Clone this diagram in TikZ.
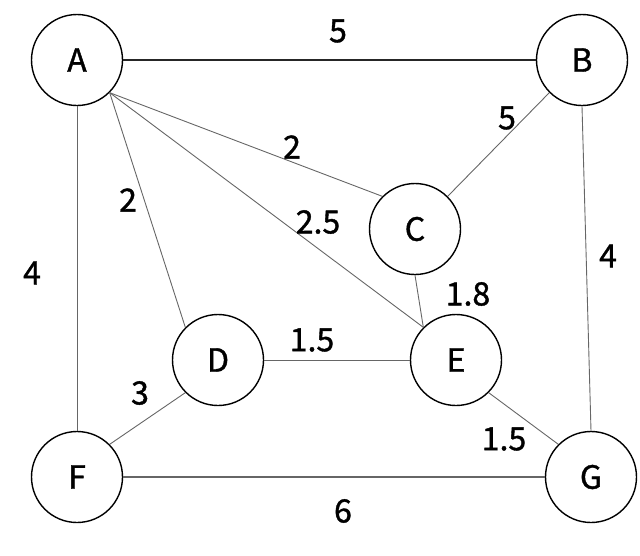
\documentclass[tikz,border=0pt]{standalone}
\usepackage{fontspec}
\setmainfont{Noto Sans CJK SC}
\newfontfamily\lblfont[FakeBold=1.2]{Noto Sans CJK SC}
\begin{document}
\begin{tikzpicture}[x=1pt,y=-1pt,
  vert/.style={circle,draw=black,line width=1.4pt,minimum size=91pt,inner sep=0pt,font=\lblfont\fontsize{32}{34}\selectfont},
  edge/.style={draw=black!60,line width=0.9pt},
  wt/.style={font=\lblfont\fontsize{32}{34}\selectfont,inner sep=0pt}]
\useasboundingbox (0,0) rectangle (640,555);
\node[vert] (A) at (77,60) {A};
\node[vert] (B) at (582,60) {B};
\node[vert] (C) at (415,229) {C};
\node[vert] (D) at (218,360) {D};
\node[vert] (E) at (456,360) {E};
\node[vert] (F) at (77,477) {F};
\node[vert] (G) at (591,477) {G};
\draw[draw=black!85,line width=1.1pt] (A.east) -- (B.west);
\draw[edge] (A.south east) -- (C.north west);
\draw[edge] (A.south east) -- (D.north west);
\draw[edge] (A.south east) -- (E.north west);
\draw[edge] (A.south) -- (F.north);
\draw[edge] (C.north east) -- (B.south west);
\draw[edge] (B.south) -- (G.north);
\draw[edge] (C.south) -- (E.north west);
\draw[edge] (D.east) -- (E.west);
\draw[edge] (D.south west) -- (F.north east);
\draw[edge] (E.south east) -- (G.north west);
\draw[edge,line width=1.1pt] (F.east) -- (G.west);
\node[wt] (w1) at (338,31) {5};
\node[wt] (w2) at (507,118) {5};
\node[wt] (w3) at (292,147) {2};
\node[wt] (w4) at (128,200) {2};
\node[wt] (w5) at (318,222) {2.5};
\node[wt] (w6) at (32,273) {4};
\node[wt] (w7) at (608,256) {4};
\node[wt] (w8) at (468,294) {1.8};
\node[wt] (w9) at (312,340) {1.5};
\node[wt] (w10) at (140,393) {3};
\node[wt] (w11) at (504,439) {1.5};
\node[wt] (w12) at (343,511) {6};
\end{tikzpicture}
\end{document}
